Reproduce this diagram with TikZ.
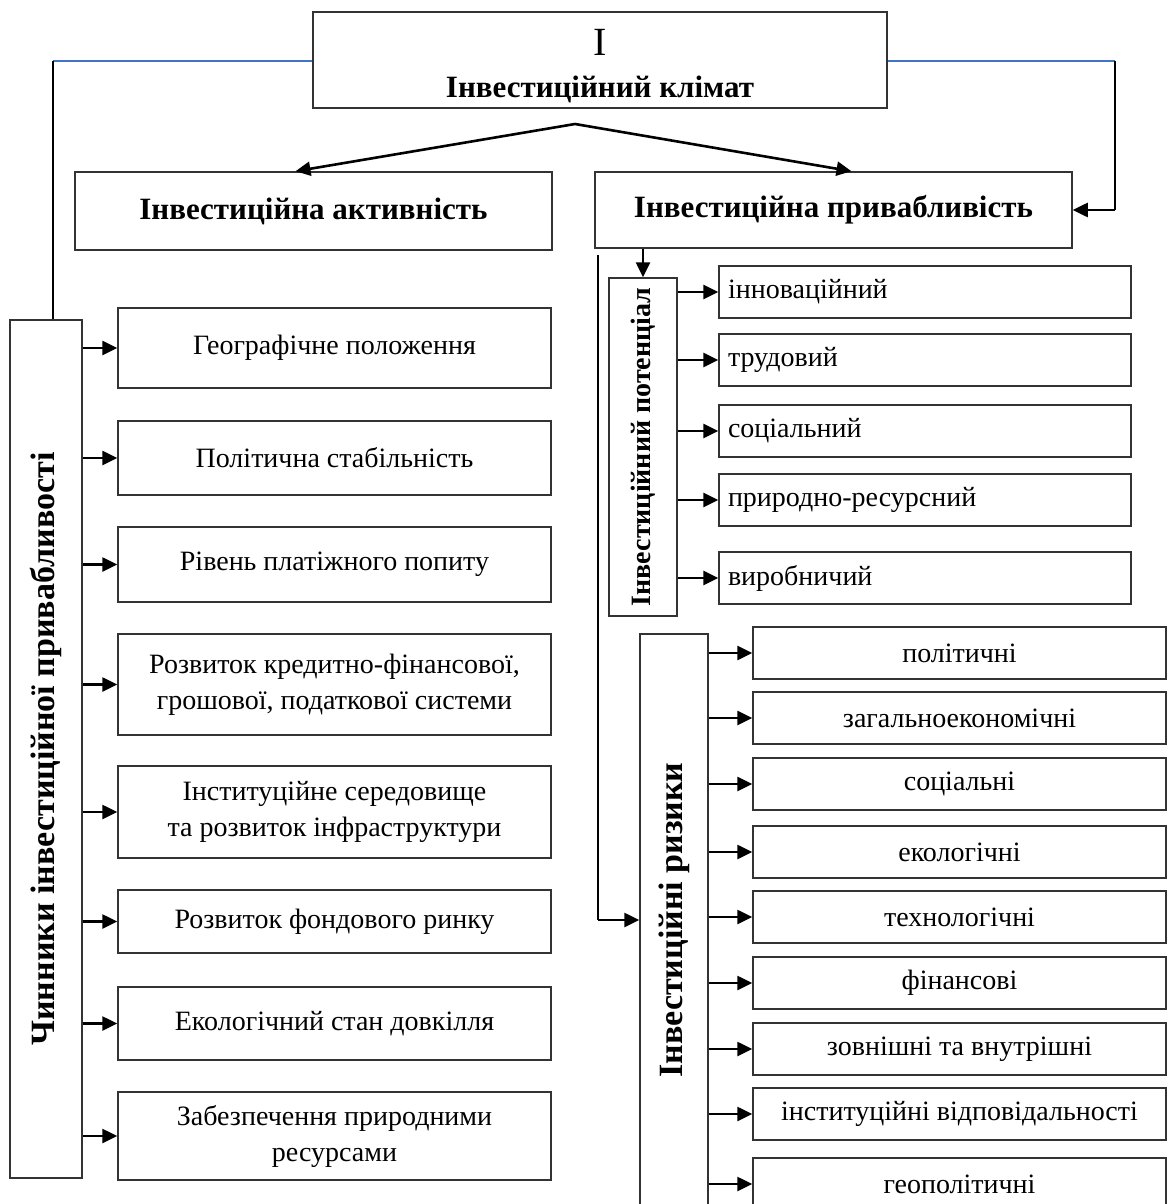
\documentclass[tikz,border=0pt]{standalone}
\usepackage{fontspec}
\setmainfont{Liberation Serif}
\usetikzlibrary{calc,arrows.meta}
\definecolor{lineblue}{HTML}{4472C4}

\begin{document}
\begin{tikzpicture}[x=0.5pt,y=-0.5pt,
  box/.style={draw=black!80,line width=0.75pt,inner sep=2pt,align=center,font=\fontsize{14}{18}\selectfont},
  hbox/.style={box,font=\fontsize{15.5}{18}\selectfont\bfseries},
  vbox/.style={box,rotate=90,font=\fontsize{17}{20}\selectfont\bfseries},
  lbox/.style={box,align=left,text width=197pt,inner xsep=4.5pt},
  arr/.style={-{Triangle[length=7.5pt,width=7pt]},line width=1.3pt},
  link/.style={line width=0.8pt},
  bluelink/.style={draw=lineblue,line width=0.8pt}]
  \useasboundingbox (0,0) rectangle (1168,1204);
  % top level
  \node[box,font=\fontsize{15.5}{21}\selectfont,minimum width=287pt,minimum height=48pt] (clim) at (600,60)
    {\rule{0pt}{19pt}{\fontsize{20}{21}\selectfont I}\\\textbf{Інвестиційний клімат}};
  \node[hbox,minimum width=238.5pt,minimum height=39pt] (act) at (313.5,211) {Інвестиційна активність};
  \node[hbox,minimum width=238.5pt,minimum height=38pt] (attr) at (833.5,210) {Інвестиційна привабливість};
  \coordinate (split) at (575,124);
  \draw[arr] (split) -- ($(act.north)+(-18,0)$);
  \draw[arr] (split) -- ($(attr.north)+(18,0)$);
  % side links (vbox is turned: east = top, south = right, north = left)
  \node[vbox,minimum width=429pt,minimum height=36pt] (fac) at (46,749) {Чинники інвестиційної привабливості};
  \coordinate (lc) at (53,61);
  \coordinate (rc) at (1115,61);
  \draw[bluelink] (clim.west |- lc) -- (lc);
  \draw[link] (lc) -- (lc |- fac.east);
  \draw[bluelink] (clim.east |- rc) -- (rc);
  \draw[link] (rc) -- (rc |- attr.east);
  \draw[arr] (rc |- attr.east) -- (attr.east);
  % factors
  \foreach \n/\y/\h/\t in {geo/348/40/{Географічне положення},pol/458/37/{Політична стабільність},
      dem/564.5/37.5/{Рівень платіжного попиту},cred/684.5/50.5/{Розвиток кредитно-фінансової,\\грошової, податкової системи},
      inst/812/46/{Інституційне середовище\\та розвиток інфраструктури},fond/921.5/31.5/{Розвиток фондового ринку},
      eco/1023.5/36.5/{Екологічний стан довкілля},res/1136/44/{Забезпечення природними\\ресурсами}} {
    \node[box,minimum width=216.5pt,minimum height=\h pt] (\n) at (334.5,\y) {\t};
    \draw[arr] (fac.south |- \n.west) -- (\n.west);
  }
  % potential
  \node[vbox,font=\fontsize{14}{16}\selectfont\bfseries,minimum width=169pt,minimum height=34pt] (pot) at (643,447) {Інвестиційний потенціал};
  \draw[arr] (attr.south -| pot.east) -- (pot.east);
  \foreach \n/\y/\t in {inn/292/інноваційний,lab/360/трудовий,soc/431/соціальний,nat/500/природно-ресурсний,prod/578/виробничий} {
    \node[lbox,minimum height=26pt] (\n) at (925,\y) {\t};
    \draw[arr] (pot.south |- \n.west) -- (\n.west);
  }
  % risks
  \node[vbox,minimum width=286pt,minimum height=34pt] (risk) at (674,920) {Інвестиційні ризики};
  \coordinate (rl) at (598,255);
  \draw[link] (rl) -- (rl |- risk.north);
  \draw[arr] (rl |- risk.north) -- (risk.north);
  \foreach \n/\y/\t in {rpol/653/політичні,rgen/718/загальноекономічні,rsoc/784/соціальні,reco/852/екологічні,
      rtech/917/технологічні,rfin/983/фінансові,rext/1049/{зовнішні та внутрішні},
      rinst/1114/{інституційні відповідальності},rgeo/1184/геополітичні} {
    \node[box,minimum width=206.5pt,minimum height=26pt] (\n) at (959.5,\y) {\t};
    \draw[arr] (risk.south |- \n.west) -- (\n.west);
  }
\end{tikzpicture}
\end{document}
